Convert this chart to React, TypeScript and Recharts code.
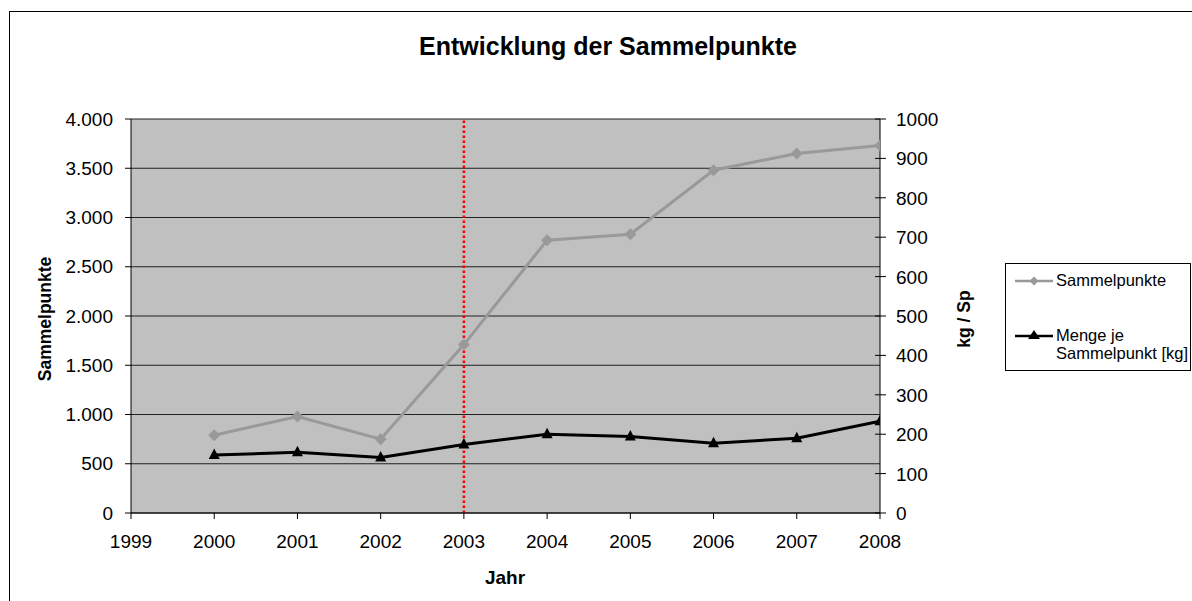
import React from "react";
import {
  CartesianGrid,
  Legend,
  Line,
  LineChart,
  ReferenceLine,
  XAxis,
  YAxis,
} from "recharts";

const years = [2000, 2001, 2002, 2003, 2004, 2005, 2006, 2007, 2008];
const sammelpunkte = [790, 980, 750, 1710, 2770, 2830, 3480, 3650, 3730];
const mengeJeSp = [147, 154, 141, 174, 200, 194, 177, 190, 233];
const yearTicks = [1999, 2000, 2001, 2002, 2003, 2004, 2005, 2006, 2007, 2008];
const leftTicks = [0, 500, 1000, 1500, 2000, 2500, 3000, 3500, 4000];
const rightTicks = [0, 100, 200, 300, 400, 500, 600, 700, 800, 900, 1000];
const markerYear = 2003;

const data = years.map((year, i) => ({
  year,
  sp: sammelpunkte[i],
  kg: mengeJeSp[i],
}));

const FONT = '"Liberation Sans", Arial, sans-serif';
const GRAY = "#999999";
const TICK_FS = 19;

// 4.000 style grouping
const formatDe = (v: number) =>
  String(v).replace(/\B(?=(\d{3})+(?!\d))/g, ".");

const Diamond = (props: any) => {
  const { cx, cy, index } = props;
  if (cx == null || cy == null) return <g key={index} />;
  const r = 6;
  return (
    <path
      key={index}
      d={`M${cx},${cy - r} L${cx + r},${cy} L${cx},${cy + r} L${cx - r},${cy} Z`}
      fill={GRAY}
    />
  );
};

const Triangle = (props: any) => {
  const { cx, cy, index } = props;
  if (cx == null || cy == null) return <g key={index} />;
  return (
    <path
      key={index}
      d={`M${cx},${cy - 6.5} L${cx + 5.5},${cy + 4} L${cx - 5.5},${cy + 4} Z`}
      fill="#000"
    />
  );
};

const RightTick = (props: any) => {
  const { x, y, payload } = props;
  // x is text position; axis line sits 16px left of it
  const ax = x - 16;
  return (
    <g>
      <line x1={ax - 5} x2={ax + 6} y1={y} y2={y} stroke="#000" />
      <text x={x} y={y} dy={7} fontSize={TICK_FS} fill="#000" fontFamily={FONT}>
        {payload.value}
      </text>
    </g>
  );
};

const LegendBox = () => (
  <div
    style={{
      width: 184,
      height: 106,
      border: "1px solid #000",
      background: "#fff",
      fontFamily: FONT,
      fontSize: 16.5,
      color: "#000",
      position: "relative",
    }}
  >
    <svg width={40} height={14} style={{ position: "absolute", left: 9, top: 10 }}>
      <line x1={0} x2={38} y1={7} y2={7} stroke={GRAY} strokeWidth={2.5} />
      <path d="M19,2.5 L23.5,7 L19,11.5 L14.5,7 Z" fill={GRAY} />
    </svg>
    <div style={{ position: "absolute", left: 50, top: 7, lineHeight: "19px" }}>
      Sammelpunkte
    </div>
    <svg width={40} height={14} style={{ position: "absolute", left: 9, top: 64 }}>
      <line x1={0} x2={38} y1={8} y2={8} stroke="#000" strokeWidth={2.5} />
      <path d="M19,2 L25,11 L13,11 Z" fill="#000" />
    </svg>
    <div style={{ position: "absolute", left: 50, top: 62, lineHeight: "18px" }}>
      Menge je
      <br />
      Sammelpunkt [kg]
    </div>
  </div>
);

export default function App() {
  return (
    <div
      style={{
        position: "fixed",
        left: 0,
        top: 0,
        width: 1192,
        height: 601,
        background: "#fff",
        overflow: "hidden",
        fontFamily: FONT,
      }}
    >
      <div
        style={{
          position: "absolute",
          left: 9,
          top: 11,
          width: 1300,
          height: 700,
          border: "1px solid #000",
        }}
      />
      <div
        style={{
          position: "absolute",
          left: 608,
          top: 46,
          transform: "translate(-50%, -50%)",
          fontWeight: "bold",
          fontSize: 25,
          whiteSpace: "nowrap",
        }}
      >
        Entwicklung der Sammelpunkte
      </div>
      <div
        style={{
          position: "absolute",
          left: 45,
          top: 319,
          transform: "translate(-50%, -50%) rotate(-90deg)",
          fontWeight: "bold",
          fontSize: 17.5,
          whiteSpace: "nowrap",
        }}
      >
        Sammelpunkte
      </div>
      <div
        style={{
          position: "absolute",
          left: 964,
          top: 319,
          transform: "translate(-50%, -50%) rotate(-90deg)",
          fontWeight: "bold",
          fontSize: 17.5,
          whiteSpace: "nowrap",
        }}
      >
        kg / Sp
      </div>
      <div
        style={{
          position: "absolute",
          left: 505,
          top: 578,
          transform: "translate(-50%, -50%)",
          fontWeight: "bold",
          fontSize: 19,
        }}
      >
        Jahr
      </div>
      <div style={{ position: "absolute", left: 0, top: 0 }}>
        <LineChart
          width={1192}
          height={601}
          data={data}
          margin={{ top: 119, right: 232, bottom: 48, left: 0 }}
        >
          <CartesianGrid
            yAxisId="left"
            vertical={false}
            stroke="#222"
            fill="#C0C0C0"
            fillOpacity={1}
          />
          <XAxis
            dataKey="year"
            type="number"
            domain={[1999, 2008]}
            ticks={yearTicks}
            allowDataOverflow
            height={40}
            stroke="#000"
            tickSize={6}
            tickMargin={16}
            tick={{ fill: "#000", fontSize: TICK_FS, fontFamily: FONT }}
          />
          <YAxis
            yAxisId="left"
            width={131}
            domain={[0, 4000]}
            ticks={leftTicks}
            tickFormatter={formatDe}
            stroke="#000"
            tickSize={6}
            tickMargin={12}
            tick={{ fill: "#000", fontSize: TICK_FS, fontFamily: FONT }}
          />
          <YAxis
            yAxisId="right"
            orientation="right"
            width={80}
            domain={[0, 1000]}
            ticks={rightTicks}
            stroke="#000"
            tickLine={false}
            tickSize={6}
            tickMargin={10}
            tick={<RightTick />}
          />
          <ReferenceLine
            yAxisId="left"
            x={markerYear}
            stroke="#ff0000"
            strokeWidth={2.5}
            strokeDasharray="2.5 2.5"
          />
          <Line
            yAxisId="left"
            dataKey="sp"
            name="Sammelpunkte"
            stroke={GRAY}
            strokeWidth={3}
            dot={Diamond}
            activeDot={false}
            isAnimationActive={false}
          />
          <Line
            yAxisId="right"
            dataKey="kg"
            name="Menge je Sammelpunkt [kg]"
            stroke="#000"
            strokeWidth={3}
            dot={Triangle}
            activeDot={false}
            isAnimationActive={false}
          />
          <Legend
            content={<LegendBox />}
            layout="vertical"
            align="center"
            verticalAlign="middle"
            wrapperStyle={{ position: "absolute", left: 1005, top: 263, width: 186 }}
          />
        </LineChart>
      </div>
    </div>
  );
}
